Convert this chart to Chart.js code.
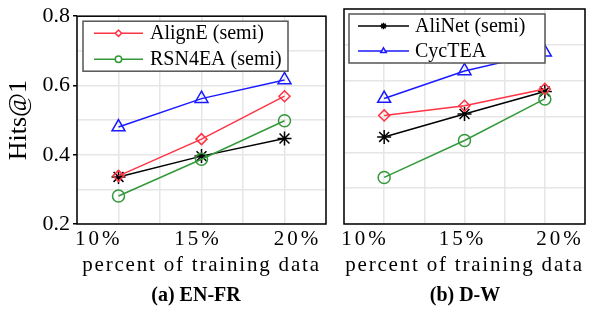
<!DOCTYPE html>
<html>
<head>
<meta charset="utf-8">
<script src="https://cdn.jsdelivr.net/npm/chart.js@4.4.0/dist/chart.umd.min.js"></script>
<style>
  body { margin: 0; background: #fff; width: 594px; height: 318px; overflow: hidden; position: relative; }
  #chartA { position: absolute; left: 0; top: 0; }
  #chartB { position: absolute; left: 335px; top: 0; }
  .caption { position: absolute; top: 283px; width: 160px; text-align: center;
             font: bold 20px "Liberation Serif", "Times New Roman", serif; color: #000; }
</style>
</head>
<body>
<canvas id="chartA" width="335" height="318"></canvas>
<canvas id="chartB" width="259" height="318"></canvas>
<div class="caption" style="left:116px">(a) EN-FR</div>
<div class="caption" style="left:385px">(b) D-W</div>
<script>
const percents = [10, 15, 20];
const tickPercents = [10, 15, 20];
const yTickLabels = [0.2, 0.4, 0.6, 0.8];

// (a) EN-FR
const enfrAlignE = [0.339, 0.445, 0.569];
const enfrRSN4EA = [0.281, 0.387, 0.498];
const enfrAliNet = [0.336, 0.396, 0.447];
const enfrCycTEA = [0.480, 0.562, 0.616];

// (b) D-W
const dwAlignE = [0.503, 0.530, 0.577];
const dwRSN4EA = [0.330, 0.433, 0.549];
const dwAliNet = [0.443, 0.507, 0.570];
const dwCycTEA = [0.550, 0.627, 0.679];

Chart.defaults.font.family = '"Liberation Serif", "Times New Roman", serif';
Chart.defaults.color = '#000';

const series = [
    { label: 'AlignE (semi)', color: '#ff3344', pointStyle: 'rectRot', radius: 5.5 },
    { label: 'RSN4EA (semi)', color: '#33993a', pointStyle: 'circle', radius: 6 },
    { label: 'AliNet (semi)', color: '#000000', pointStyle: 'star', radius: 7 },
    { label: 'CycTEA', color: '#1a1aff', pointStyle: 'triangle', radius: 7.5 }
];

function makeDatasets(values) {
    return series.map((s, i) => ({
        label: s.label,
        data: percents.map((p, j) => ({ x: p, y: values[i][j] })),
        borderColor: s.color,
        borderWidth: 1.5,
        pointStyle: s.pointStyle,
        pointRadius: s.radius,
        pointBorderColor: s.color,
        pointBackgroundColor: 'rgba(0,0,0,0)',
        pointBorderWidth: 1.5,
        fill: false,
        tension: 0
    }));
}

// frame round the plot area
const frame = {
    id: 'frame',
    afterDatasetsDraw(chart) {
        const a = chart.chartArea;
        const ctx = chart.ctx;
        ctx.save();
        ctx.strokeStyle = '#000';
        ctx.lineWidth = 1.5;
        ctx.strokeRect(a.left, a.top, a.right - a.left, a.bottom - a.top);
        ctx.restore();
    }
};

// boxed legend inside the plot, line + marker + label
const boxLegend = {
    id: 'boxLegend',
    afterDraw(chart, args, opts) {
        const ctx = chart.ctx;
        const a = chart.chartArea;
        const x = a.left + opts.dx, y = a.top + opts.dy;
        ctx.save();
        ctx.fillStyle = '#fff';
        ctx.fillRect(x, y, opts.w, opts.h);
        ctx.strokeStyle = '#555';
        ctx.lineWidth = 1.5;
        ctx.strokeRect(x, y, opts.w, opts.h);
        opts.items.forEach((idx, i) => {
            const ds = chart.data.datasets[idx];
            const cy = y + opts.rows[i];
            const x0 = x + opts.lineStart, x1 = x0 + opts.lineLen;
            ctx.strokeStyle = ds.borderColor;
            ctx.lineWidth = 1.5;
            ctx.beginPath();
            ctx.moveTo(x0, cy);
            ctx.lineTo(x1, cy);
            ctx.stroke();
            ctx.fillStyle = '#fff';
            Chart.helpers.drawPoint(ctx, {
                pointStyle: ds.pointStyle, radius: 3.2, borderWidth: 1.5, rotation: 0
            }, (x0 + x1) / 2, cy);
            ctx.fillStyle = '#000';
            ctx.font = '20px "Liberation Serif", serif';
            ctx.textBaseline = 'middle';
            ctx.fillText(ds.label, x + opts.textStart, cy + 1);
        });
        ctx.restore();
    }
};

// x tick labels and x title are letter-spaced in the reference
const spacedX = {
    id: 'spacedX',
    afterLayout(chart) {
        const s = chart.scales.x2;
        if (s && !s._spaced) {
            const labels = s.drawLabels.bind(s);
            const title = s.drawTitle.bind(s);
            s.drawLabels = (area) => {
                chart.ctx.letterSpacing = '3px';
                labels(area);
                chart.ctx.letterSpacing = '0px';
            };
            s.drawTitle = () => {
                chart.ctx.letterSpacing = '1.8px';
                title();
                chart.ctx.letterSpacing = '0px';
            };
            s._spaced = true;
        }
    }
};

function makeChart(canvasId, values, opt) {
    const gridColor = '#e6e6e6';
    return new Chart(document.getElementById(canvasId), {
        type: 'line',
        data: { datasets: makeDatasets(values) },
        options: {
            responsive: false,
            animation: false,
            layout: { padding: { top: 8, right: opt.padRight, left: 0, bottom: 38 } },
            plugins: {
                legend: { display: false },
                tooltip: { enabled: false },
                boxLegend: opt.legend
            },
            scales: {
                x: {
                    type: 'linear',
                    min: 7.5,
                    max: 22.5,
                    ticks: { display: false, stepSize: 2.5 },
                    grid: { color: gridColor, lineWidth: 1.5, drawTicks: false },
                    border: { display: false },
                    afterFit: s => { s.height = 0; }
                },
                x2: {
                    type: 'linear',
                    position: 'bottom',
                    min: opt.labelMin,
                    max: opt.labelMax,
                    afterBuildTicks: s => { s.ticks = tickPercents.map(v => ({ value: v })); },
                    ticks: {
                        font: { size: 21 },
                        color: '#000',
                        padding: 3,
                        maxRotation: 0,
                        autoSkip: false,
                        callback: v => v + '%'
                    },
                    grid: { display: false, drawTicks: false },
                    border: { display: false },
                    title: {
                        display: true,
                        text: 'percent of training data',
                        font: { size: 21 },
                        color: '#000',
                        padding: { top: 0, bottom: 2 }
                    },
                    afterFit: s => { s.height = 56; }
                },
                y: {
                    min: 0.2,
                    max: 0.8,
                    ticks: {
                        display: opt.yLabels,
                        stepSize: 0.1,
                        font: { size: 22 },
                        color: '#000',
                        padding: 3,
                        callback: v => yTickLabels.some(t => Math.abs(t - v) < 1e-6) ? v.toFixed(1) : ''
                    },
                    grid: {
                        color: gridColor,
                        lineWidth: 1.5,
                        drawTicks: opt.yLabels,
                        tickLength: 4,
                        tickColor: c => yTickLabels.some(t => Math.abs(t - c.tick.value) < 1e-6) ? '#000' : 'rgba(0,0,0,0)',
                        tickWidth: 1.5
                    },
                    border: { display: false },
                    title: {
                        display: opt.yLabels,
                        text: 'Hits@1',
                        font: { size: 26 },
                        color: '#000',
                        padding: { top: 4, bottom: 0 }
                    },
                    afterFit: s => { s.width = opt.yWidth; }
                }
            }
        },
        plugins: [frame, boxLegend, spacedX]
    });
}

makeChart('chartA', [enfrAlignE, enfrRSN4EA, enfrAliNet, enfrCycTEA], {
    padRight: 5,
    yWidth: 77,
    yLabels: true,
    labelMin: 8.91,
    labelMax: 21.43,
    legend: { items: [0, 1], dx: 6, dy: 5, w: 205, h: 50, rows: [12, 38], lineStart: 11, lineLen: 49, textStart: 67 }
});

makeChart('chartB', [dwAlignE, dwRSN4EA, dwAliNet, dwCycTEA], {
    padRight: 1,
    yWidth: 7,
    yLabels: false,
    labelMin: 8.92,
    labelMax: 21.28,
    legend: { items: [2, 3], dx: 5, dy: 5, w: 196, h: 49, rows: [12, 37], lineStart: 9, lineLen: 51, textStart: 66 }
});
</script>
</body>
</html>
